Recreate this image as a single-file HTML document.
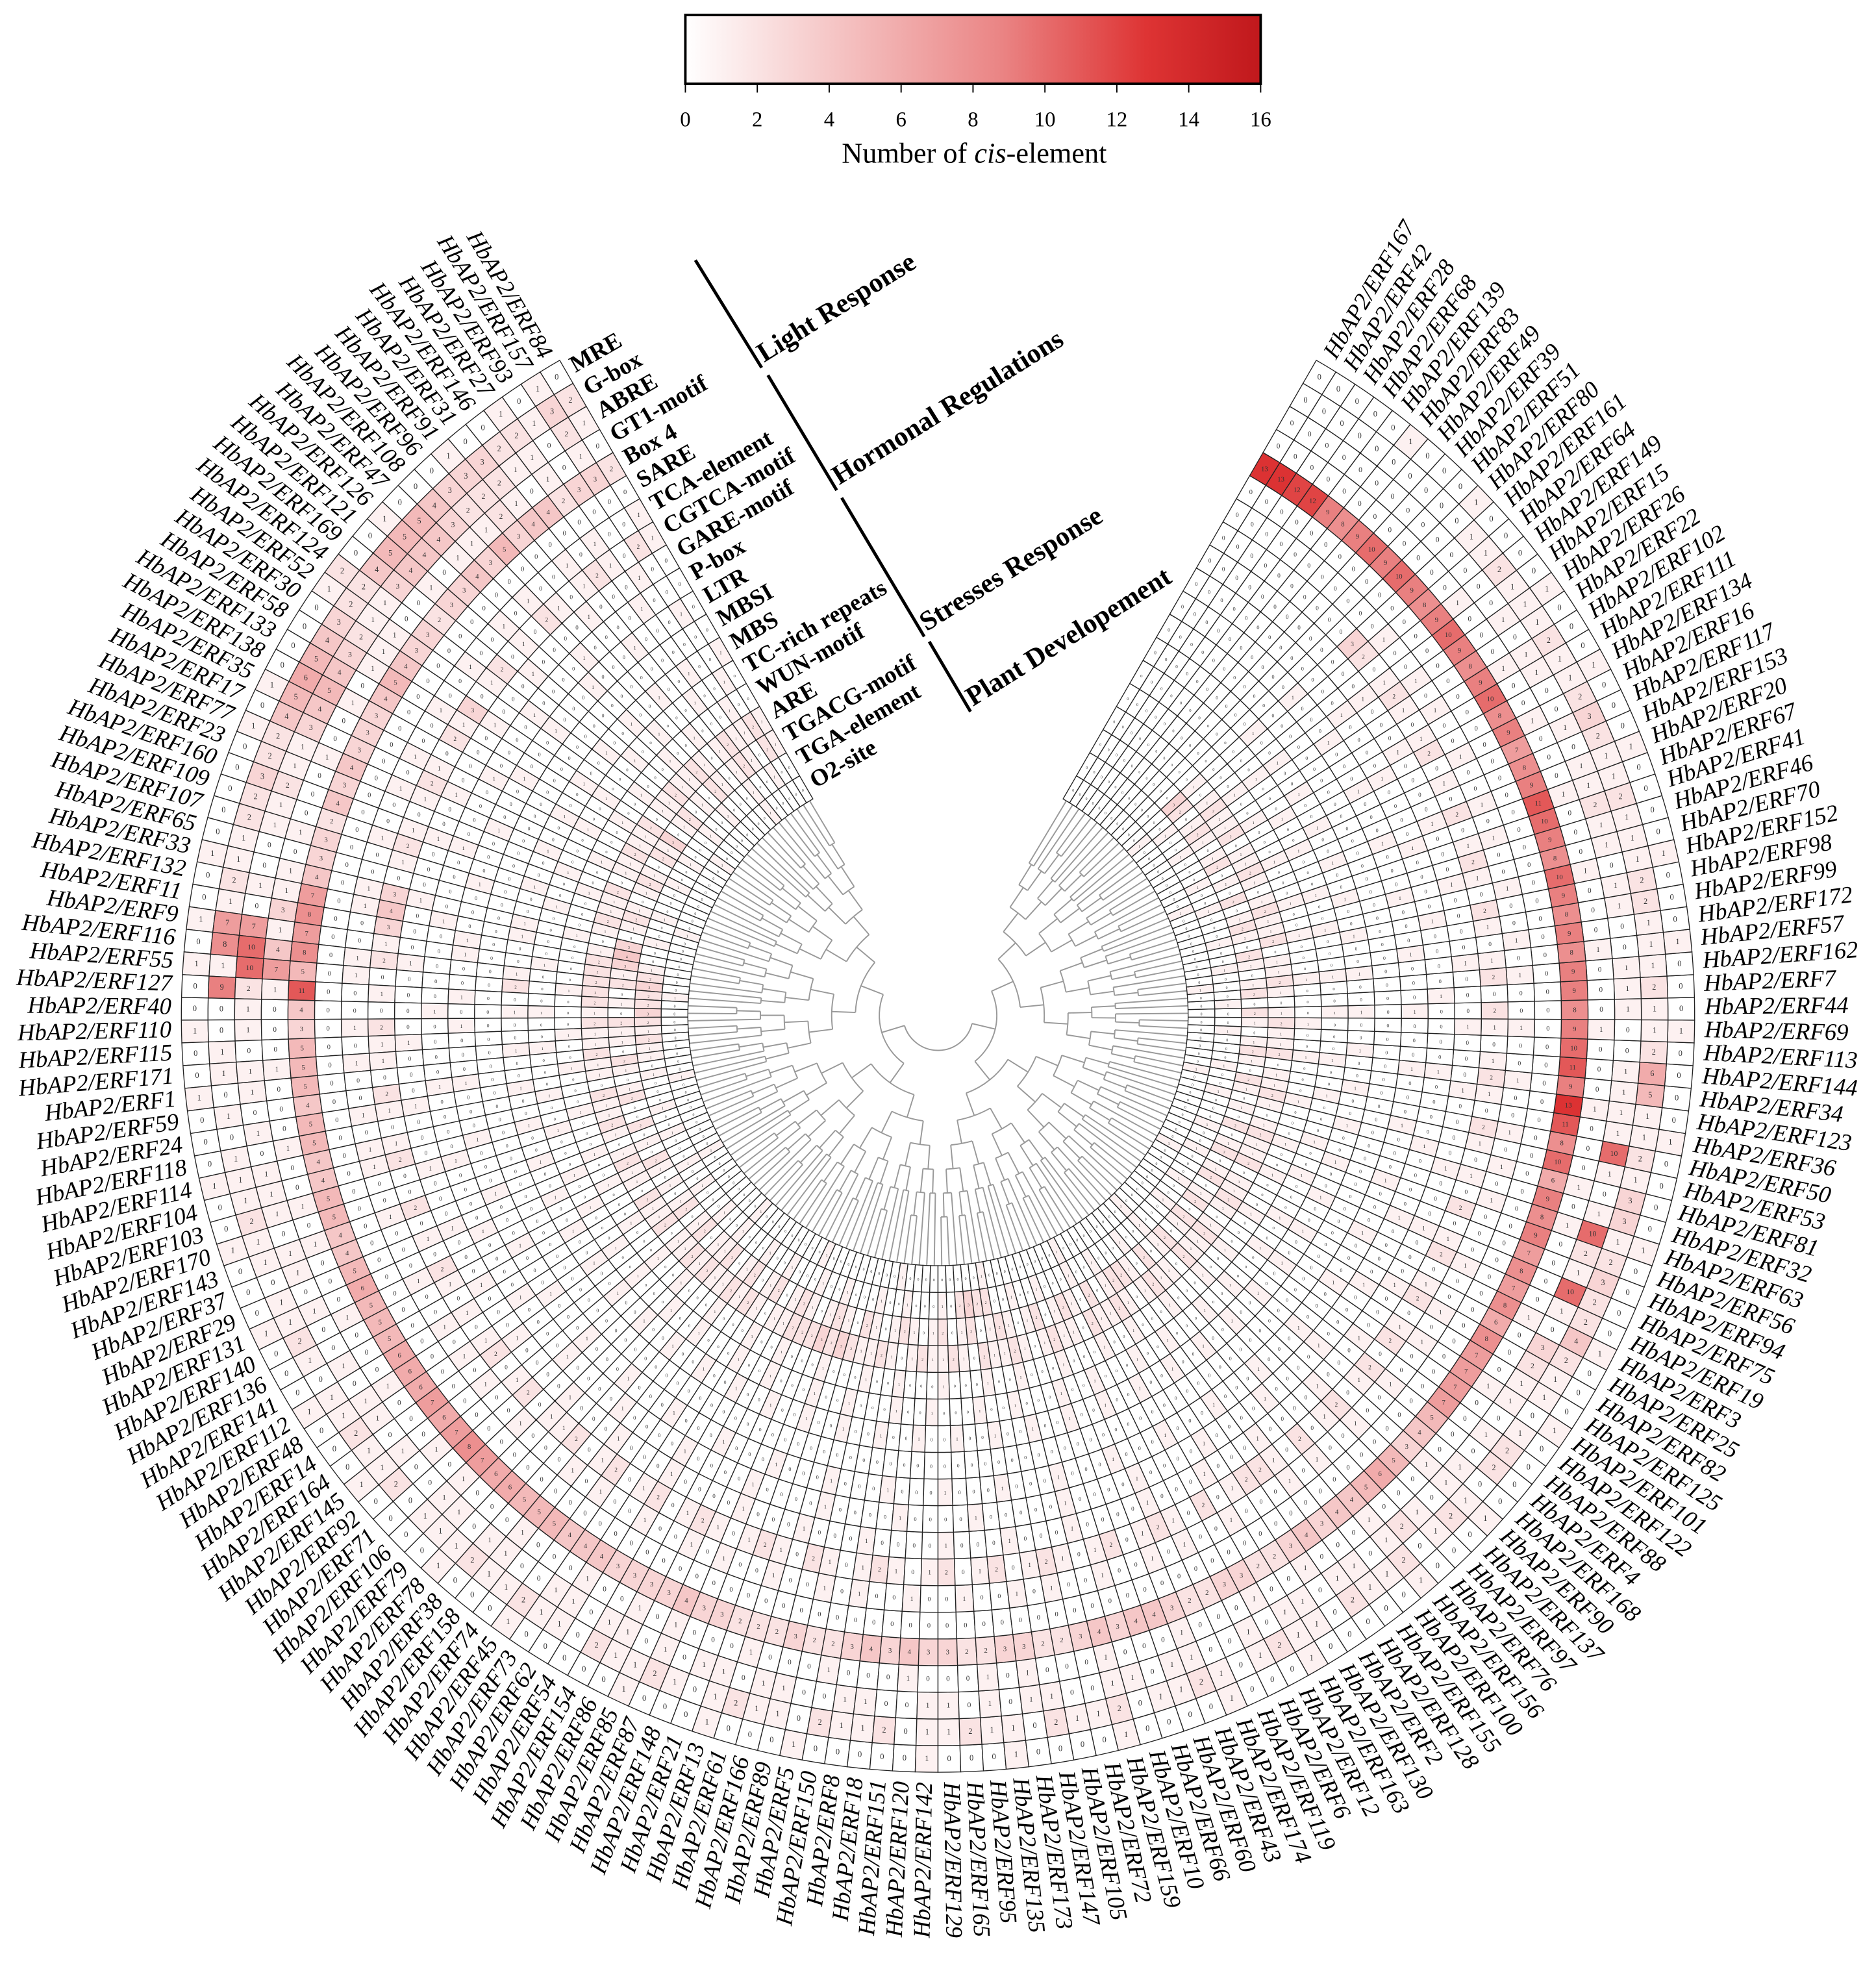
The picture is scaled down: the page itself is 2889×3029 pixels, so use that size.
<!DOCTYPE html>
<html><head><meta charset="utf-8"><title>cis-element heatmap</title>
<style>
html,body{margin:0;padding:0;background:#fff;}
svg{display:block;}
</style></head>
<body>
<svg id="chart" xmlns="http://www.w3.org/2000/svg" width="2889" height="3029" viewBox="0 0 1500 1572.7">
<defs>
<linearGradient id="cbar" x1="0" x2="1" y1="0" y2="0">
<stop offset="0" stop-color="#ffffff"/><stop offset="0.55" stop-color="#ea8484"/><stop offset="0.8" stop-color="#de3434"/><stop offset="1" stop-color="#c0181c"/>
</linearGradient>
</defs>
<g>
<rect x="548" y="12" width="460" height="55" fill="url(#cbar)" stroke="#000" stroke-width="2"/>
<g id="cbticks"></g>
<text x="779" y="130" font-family="Liberation Serif, serif" font-size="23" text-anchor="middle">Number of <tspan font-style="italic">cis</tspan>-element</text>
</g>
<g id="dendro" stroke="#999" stroke-width="1" fill="none"></g>
<g id="cells"></g>
<g id="genes"></g>
<g id="rings"></g>
<g id="groups"></g>
</svg>
<script>
const genes = ["84","157","93","27","146","31","91","96","108","47","126","121","169","124","52","30","58","133","138","35","17","77","23","160","109","107","65","33","132","11","9","116","55","127","40","110","115","171","1","59","24","118","114","104","103","170","143","37","29","131","140","136","141","112","48","14","164","145","92","71","106","79","78","38","158","74","45","73","62","54","154","86","85","87","148","21","13","61","166","89","5","150","8","18","151","120","142","129","165","95","135","173","147","105","72","159","10","66","60","43","174","119","6","12","163","130","2","128","155","100","156","76","97","137","90","168","4","88","122","101","125","82","25","3","19","75","94","56","63","32","81","53","50","36","123","34","144","113","69","44","7","162","57","172","99","98","152","70","46","41","67","20","153","117","16","134","111","102","22","26","15","149","64","161","80","51","39","49","83","139","68","28","42","167"];
const ringLabels = ["MRE","G-box","ABRE","GT1-motif","Box 4","SARE","TCA-element","CGTCA-motif","GARE-motif","P-box","LTR","MBSI","MBS","TC-rich repeats","WUN-motif","ARE","TGACG-motif","TGA-element","O2-site"];
// ring values (one char per gene, a=10 ... g=16), order MRE (outer) -> O2-site (inner)
const ringMRE   = "01010010001002100001010000010010100100100010010001000100010000100010000010001000100000100010000100001000100000100010000100010000100001000010001000100001000100010000100010";
const ringGbox  = "23122333455542234565422322112121010011010111211011210112112011121121102112101211021120112110211201121012110211201210221011242232133121122211211122111211232112111211";
const ringABRE  = "12011222344431123454311211001006221101101011101101001011010011011001101101011011001100110101100110110010110110121011010112301a1211011111100111001101121101001101";
const ringGT1   = "01010121110100111010010001011314010001000100101000100010001010001000100101000100010001000101000100010001001000100010000100010000101000100010001000100010001001000100";
const ringBox4  = "23324435343323345433343423347878434355545544554456555666767876655544433334332223223434332233223434432233223434456534577778687879898a9a8b99989798a99898a98979899a98989";
const ringSARE  = "00000000000000000000000000000000000000000000000000000000000000000000000000000000000000000000000000000000000000000000000000000000000000000000000000000000000000000000";
const ringTCA   = "10010100101001001001010010011001100101001011001000100101010010001010010010100100101001001001010010010100100010100100100101001000101010010010010100100101001001010010";
const ringCGTCA = "12012101201021031201210121034312010211021012002010210101201201120120120121012102101210120120121012012102012210201201202102102102010120121012021012012102010210121023";
const ringGARE  = "00100010000100010000100100010001000010001000100010001000100001000100010000100010001000010001000100001000100010000100010001000100010000100010001000010001000010001000";
const ringPbox  = "00010000100001000010000100001000001000010000100001000010000100001000010000100001000010000100000100001000010000100001000010000100001000010000100001000010000100001000";
const ringLTR   = "01000100010001000100010001000110010100010001000100010001000100010001000100010001000100010001000100010001000100010001000100010001000100010001000100010001000100010001";
const ringMBSI  = "00000000000000000000000000000000000000000000000000000000000000000000000000000000000000000000000000000000000000000000000000000000000000000000000000000000000000000000";
const ringMBS   = "10010010010010010010010010011001201001001001001001001001001001001001001001001001001001001001001001001001001001001001001001001001001001001001001001001001001001001001";
const ringTCrich= "01001000100100010010001001000010001001000100100010010001001000100100010010001001000100100010010001001000100100010010001001000100100010010001001000100100010010001000";
const ringWUN   = "00100010010001001000100100010000100010010001000100100010001001000100010010001000100100010001001000100010010001000100100010001001000100010010001000100100010001001000";
const ringARE   = "12112101211211021121102112101222221211211021121012110211201121211212101122232321121012112102112101211021121012110211210121102112101211021121012110211210121102112101";
const ringTGACG = "12012101201021031201210121034312010211021012002010210101201201120120120121012102101210120120121012012102012210201201202102102102010120121012021012012102010210121023";
const ringTGA   = "00100100010010001001000100100123223212110100010010001001000100100010010001001000100100010232200100100010010001001000100100010010001001000100100010010001001000100100";
const ringO2    = "00000100000000100000000010000000100000000010000000001000000000100000000010000000001000000000100000000010000000001000000000100000000010000000001000000000100000000010";
const ringStrings = [ringMRE,ringGbox,ringABRE,ringGT1,ringBox4,ringSARE,ringTCA,ringCGTCA,ringGARE,ringPbox,ringLTR,ringMBSI,ringMBS,ringTCrich,ringWUN,ringARE,ringTGACG,ringTGA,ringO2];
// explicit hot-spot values [ring label, gene, value]
const hotRing  = ["MRE","G-box","ABRE","GT1-motif","Box 4","G-box","ABRE","GT1-motif","Box 4","G-box","ABRE","Box 4","G-box","ABRE","Box 4","Box 4","Box 4","Box 4","Box 4","Box 4","Box 4","Box 4","Box 4","Box 4","Box 4","Box 4","Box 4","Box 4","Box 4","Box 4","Box 4","Box 4","Box 4","Box 4","Box 4","Box 4","Box 4","Box 4","Box 4","Box 4","Box 4","Box 4","Box 4","Box 4","Box 4","Box 4","Box 4","Box 4","Box 4","Box 4","Box 4","Box 4","ABRE","ABRE","G-box","G-box"];
const hotGene  = ["127","127","127","127","127","55","55","55","55","116","116","116","9","9","9","167","42","28","68","139","83","49","39","51","80","161","64","149","15","26","22","102","111","134","16","117","153","20","67","41","46","70","152","98","99","172","57","162","7","44","69","113","50","63","144","34"];
const hotValue = [0,9,2,1,11,1,10,7,5,8,10,8,7,7,7,13,13,12,12,9,8,9,10,9,10,9,8,9,10,9,8,9,10,8,9,7,8,9,11,10,9,8,10,9,8,9,8,9,9,8,9,10,10,10,6,5];
const moreHotRing = ["Box 4","Box 4","Box 4","Box 4","Box 4","Box 4","Box 4"];
const moreHotGene = ["144","34","123","36","50","53","81"];
const moreHotValue = [11,9,13,11,8,10,6];

const NS="http://www.w3.org/2000/svg";
const cx=750, cy=812, rOuter=605, rInner=200;
const nR = ringLabels.length;
const ringW=(rOuter-rInner)/nR;
const startA=-30, span=300;
const n=genes.length, step=span/n;
function geneAngle(i){return startA-(i+0.5)*step;}
function pt(r,a){const t=a*Math.PI/180;return [cx+r*Math.sin(t), cy-r*Math.cos(t)];}
function ringR(k){return rOuter-k*ringW;}
function color(v){
  const t=Math.max(0,Math.min(1,v/16));
  const st=[[0,255,255,255],[0.55,234,132,132],[0.8,222,52,52],[1,192,24,28]];
  for(let s=1;s<st.length;s++){if(t<=st[s][0]){const a=st[s-1],b=st[s],f=(t-a[0])/(b[0]-a[0]);
    return `rgb(${Math.round(a[1]+(b[1]-a[1])*f)},${Math.round(a[2]+(b[2]-a[2])*f)},${Math.round(a[3]+(b[3]-a[3])*f)})`;}}
  return "rgb(192,24,28)";
}
function parseCh(c){const d=parseInt(c,17);return isNaN(d)?0:d;}

const values=[];
for(let k=0;k<nR;k++){const s=ringStrings[k]||"";const row=[];for(let i=0;i<n;i++)row.push(i<s.length?parseCh(s[i]):0);values.push(row);}
function applyHot(rs,gs,vs){for(let j=0;j<rs.length;j++){const k=ringLabels.indexOf(rs[j]),i=genes.indexOf(gs[j]);if(k>=0&&i>=0)values[k][i]=vs[j];}}
applyHot(hotRing,hotGene,hotValue);
applyHot(moreHotRing,moreHotGene,moreHotValue);

const cellG=document.getElementById('cells');
for(let k=0;k<nR;k++){
  const r1=ringR(k), r0=ringR(k+1);
  for(let i=0;i<n;i++){
    const a0=startA-i*step, a1=startA-(i+1)*step;
    const p1=pt(r1,a0),p2=pt(r1,a1),p3=pt(r0,a1),p4=pt(r0,a0);
    const p=document.createElementNS(NS,'path');
    p.setAttribute('d',`M${p1[0].toFixed(2)},${p1[1].toFixed(2)}A${r1},${r1} 0 0 0 ${p2[0].toFixed(2)},${p2[1].toFixed(2)}L${p3[0].toFixed(2)},${p3[1].toFixed(2)}A${r0},${r0} 0 0 1 ${p4[0].toFixed(2)},${p4[1].toFixed(2)}Z`);
    p.setAttribute('fill',color(values[k][i]));
    p.setAttribute('stroke','#222');
    p.setAttribute('stroke-width','0.7');
    
    
    cellG.appendChild(p);
    const c=pt((r0+r1)/2,geneAngle(i));
    const t=document.createElementNS(NS,'text');
    t.setAttribute('x',c[0].toFixed(1));t.setAttribute('y',(c[1]+1.8).toFixed(1));
    t.setAttribute('font-size',Math.max(3,5.5*(r0+r1)/2/500).toFixed(1));
    t.setAttribute('font-family','Liberation Serif, serif');
    t.setAttribute('text-anchor','middle');
    t.setAttribute('fill','#333');
    
    
    t.textContent=values[k][i];
    cellG.appendChild(t);
  }
}

const geneG=document.getElementById('genes');
for(let i=0;i<n;i++){
  const a=geneAngle(i);const p=pt(rOuter+8,a);
  const t=document.createElementNS(NS,'text');
  const na=((a%360)+360)%360;
  t.setAttribute('x',p[0].toFixed(1));t.setAttribute('y',p[1].toFixed(1));
  t.setAttribute('font-family','Liberation Serif, serif');t.setAttribute('font-style','italic');
  t.setAttribute('font-size','19');t.setAttribute('dominant-baseline','middle');
  if(na<180){t.setAttribute('text-anchor','start');t.setAttribute('transform',`rotate(${(na-90).toFixed(2)} ${p[0].toFixed(1)} ${p[1].toFixed(1)})`);}
  else{t.setAttribute('text-anchor','end');t.setAttribute('transform',`rotate(${(na-270).toFixed(2)} ${p[0].toFixed(1)} ${p[1].toFixed(1)})`);}
  
  
  t.textContent='HbAP2/ERF'+genes[i];
  geneG.appendChild(t);
}

const ringG=document.getElementById('rings');
const tx=Math.cos(startA*Math.PI/180), ty=Math.sin(startA*Math.PI/180);
for(let k=0;k<nR;k++){
  const p=pt(ringR(k)-ringW/2,startA);
  const x=p[0]+6*tx, y=p[1]+6*ty;
  const t=document.createElementNS(NS,'text');
  t.setAttribute('x',x.toFixed(1));t.setAttribute('y',y.toFixed(1));
  t.setAttribute('font-family','Liberation Serif, serif');t.setAttribute('font-weight','bold');
  t.setAttribute('font-size','19');t.setAttribute('dominant-baseline','middle');
  t.setAttribute('transform',`rotate(${startA} ${x.toFixed(1)} ${y.toFixed(1)})`);
  
  
  t.textContent=ringLabels[k];
  ringG.appendChild(t);
}

const groupNames=["Light Response","Hormonal Regulations","Stresses Response","Plant Developement"];
const groupLines=[[556,208,609,294],[614,300,669,392],[673,398,739,509],[743,513,776,569]];
const gg=document.getElementById('groups');
groupNames.forEach((nm,j)=>{
  const L=groupLines[j];
  const l=document.createElementNS(NS,'line');
  l.setAttribute('x1',L[0]);l.setAttribute('y1',L[1]);l.setAttribute('x2',L[2]);l.setAttribute('y2',L[3]);
  l.setAttribute('stroke','#000');l.setAttribute('stroke-width','2.5');
  
  
  gg.appendChild(l);
  const x=L[2]+2,y=L[3]-4;
  const t=document.createElementNS(NS,'text');
  t.setAttribute('x',x);t.setAttribute('y',y);
  t.setAttribute('font-family','Liberation Serif, serif');t.setAttribute('font-weight','bold');t.setAttribute('font-size','22');
  t.setAttribute('transform',`rotate(-32 ${x} ${y})`);
  
  
  t.textContent=nm;
  gg.appendChild(t);
});

const cbTicks=[0,2,4,6,8,10,12,14,16];
const cbG=document.getElementById('cbticks');
cbTicks.forEach(v=>{
  const x=548+460*v/16;
  const l=document.createElementNS(NS,'line');
  l.setAttribute('x1',x);l.setAttribute('x2',x);l.setAttribute('y1',67);l.setAttribute('y2',74);
  l.setAttribute('stroke','#000');l.setAttribute('stroke-width','1');
  
  
  cbG.appendChild(l);
  const t=document.createElementNS(NS,'text');
  t.setAttribute('x',x);t.setAttribute('y',101);t.setAttribute('text-anchor','middle');
  t.setAttribute('font-family','Liberation Serif, serif');t.setAttribute('font-size','17');
  
  
  t.textContent=v;
  cbG.appendChild(t);
});

const dg=document.getElementById('dendro');
function nodeR(d){return Math.min(188,28+d*19);}
function build(lo,hi,d){
  if(lo===hi){return {a:geneAngle(lo),r:rInner,leaf:true};}
  const mid=Math.floor((lo+hi)/2);
  const L=build(lo,mid,d+1),R=build(mid+1,hi,d+1);
  const r=nodeR(d);
  [L,R].forEach(ch=>{
    const p0=pt(r,ch.a),p1=pt(ch.leaf?rInner:ch.r,ch.a);
    const ln=document.createElementNS(NS,'line');
    ln.setAttribute('x1',p0[0].toFixed(1));ln.setAttribute('y1',p0[1].toFixed(1));ln.setAttribute('x2',p1[0].toFixed(1));ln.setAttribute('y2',p1[1].toFixed(1));
    
    
    dg.appendChild(ln);
  });
  const pa=pt(r,L.a),pb=pt(r,R.a);
  const arc=document.createElementNS(NS,'path');
  const large=Math.abs(L.a-R.a)>180?1:0;
  arc.setAttribute('d',`M${pa[0].toFixed(1)},${pa[1].toFixed(1)}A${r},${r} 0 ${large} 0 ${pb[0].toFixed(1)},${pb[1].toFixed(1)}`);
  
  
  dg.appendChild(arc);
  return {a:(L.a+R.a)/2,r:r,leaf:false};
}
build(0,n-1,0);
</script>
</body></html>
